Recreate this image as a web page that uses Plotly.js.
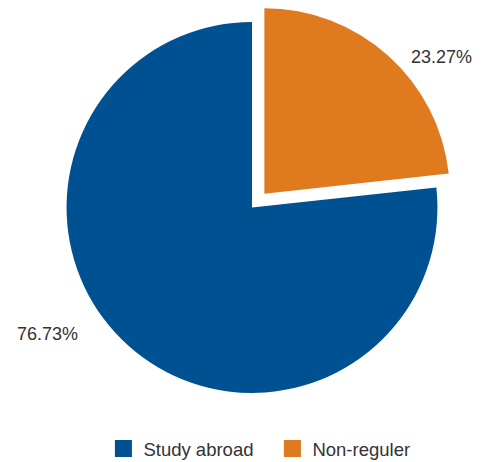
<!DOCTYPE html>
<html>
<head>
<meta charset="utf-8">
<script src="https://cdn.plot.ly/plotly-3.0.1.min.js"></script>
<style>html,body{margin:0;padding:0;background:#fff;}#chart{width:483px;height:462px;}</style>
</head>
<body>
<div id="chart"></div>
<script>
const categories = ["Non-reguler", "Study abroad"];
const values = [23.27, 76.73];
const colors = ["#e07a1f", "#005192"];
const pulls = [0.1, 0];
const labelPos = [[0.915, 0.8633], [0.0988, 0.199]];

const annotations = values.map((v, i) => ({
  text: v.toFixed(2) + "%",
  xref: "paper", yref: "paper",
  x: labelPos[i][0], y: labelPos[i][1],
  xanchor: "center", yanchor: "middle",
  showarrow: false,
  font: {family: "Liberation Sans, Arial, sans-serif", size: 18, color: "#333333"}
}));

const data = [{
  type: "pie",
  labels: categories,
  values: values,
  sort: false,
  direction: "clockwise",
  rotation: 0,
  pull: pulls,
  marker: {colors: colors, line: {width: 0}},
  textinfo: "none",
  hoverinfo: "label+percent",
  domain: {x: [0.0435, 1], y: [0.0132, 0.9916]}
}];

const layout = {
  width: 483, height: 462,
  margin: {l: 0, r: 0, t: 0, b: 45},
  paper_bgcolor: "#ffffff",
  plot_bgcolor: "#ffffff",
  showlegend: true,
  legend: {
    orientation: "h",
    xref: "container", yref: "container",
    x: 0.564, xanchor: "center",
    y: 0.028, yanchor: "middle",
    traceorder: "reversed",
    entrywidth: 124,
    font: {family: "Liberation Sans, Arial, sans-serif", size: 18.5, color: "#333333"}
  },
  annotations: annotations
};

Plotly.newPlot("chart", data, layout, {displayModeBar: false, staticPlot: true}).then(() => {
  document.querySelectorAll("#chart .legend .legendpoints path").forEach(p => {
    const t = p.getAttribute("transform") || "";
    p.setAttribute("transform", t + " scale(1.42)");
  });
});
</script>
</body>
</html>
